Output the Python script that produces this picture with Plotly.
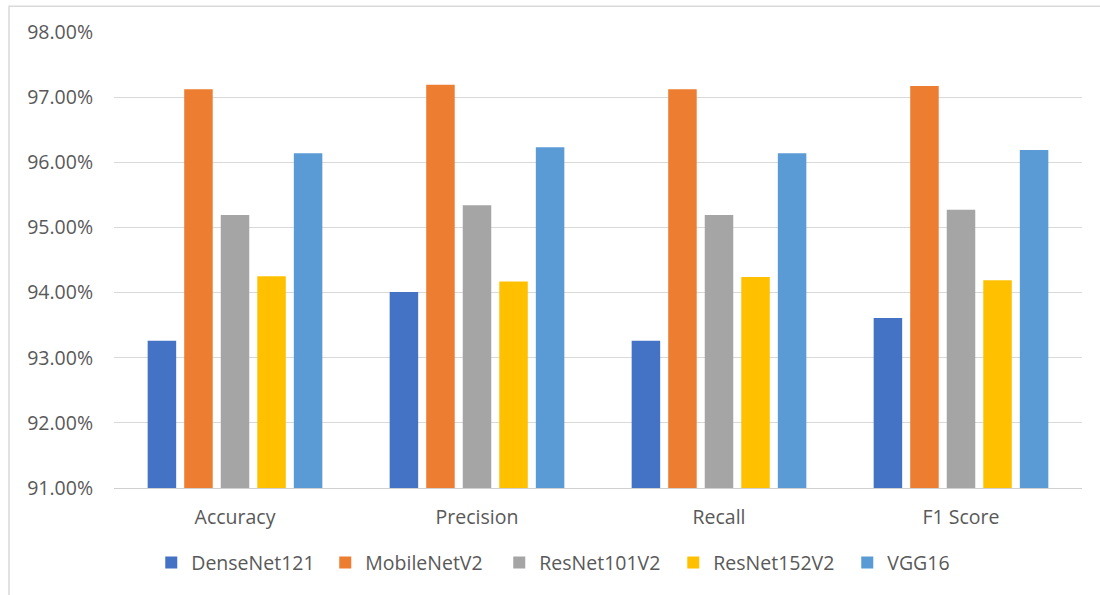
import plotly.graph_objects as go

metrics = ["Accuracy", "Precision", "Recall", "F1 Score"]
models = ["DenseNet121", "MobileNetV2", "ResNet101V2", "ResNet152V2", "VGG16"]
densenet121 = [0.9326, 0.9401, 0.9326, 0.9361]
mobilenetv2 = [0.9712, 0.9719, 0.9712, 0.9717]
resnet101v2 = [0.9519, 0.9534, 0.9519, 0.9527]
resnet152v2 = [0.9425, 0.9417, 0.9424, 0.9419]
vgg16 = [0.9614, 0.9623, 0.9614, 0.9619]
series = [densenet121, mobilenetv2, resnet101v2, resnet152v2, vgg16]
colors = ["#4472C4", "#ED7D31", "#A5A5A5", "#FFC000", "#5B9BD5"]
y_ticks = [0.91, 0.92, 0.93, 0.94, 0.95, 0.96, 0.97, 0.98]

FONT = "Open Sans"
FS = 19.5
fig = go.Figure()
for name, vals, col in zip(models, series, colors):
    fig.add_trace(go.Bar(x=metrics, y=vals, name=name, marker_color=col,
                         marker_line_width=0))

fig.update_layout(
    width=1100, height=595,
    margin=dict(l=114, r=18, t=32, b=107),
    paper_bgcolor="white", plot_bgcolor="white",
    barmode="group", bargap=0.245, bargroupgap=0.22,
    font=dict(family=FONT, size=FS, color="#595959"),
    showlegend=True,
    legend=dict(orientation="h", x=0.0385, xanchor="left", y=-0.164, yanchor="middle",
                font=dict(family=FONT, size=FS, color="#595959"),
                itemwidth=30, traceorder="normal",
                entrywidth=129, entrywidthmode="pixels"),
    xaxis=dict(showgrid=False, showline=True, linecolor="#d0d0d0", linewidth=1,
               ticks="", ticklabelstandoff=12, tickfont=dict(size=FS, color="#595959")),
    yaxis=dict(range=[0.91, 0.98], tickvals=y_ticks, tickformat=".2%",
               showgrid=True, gridcolor="#d9d9d9", gridwidth=1, zeroline=False,
               showline=False, ticks="", ticklabelstandoff=20,
               tickfont=dict(size=FS, color="#595959")),
    shapes=[dict(type="rect", xref="paper", yref="paper",
                 x0=(9 - 114) / 968, x1=(1110 - 114) / 968,
                 y0=(488.3 - 605) / 456.6, y1=(488.3 - 6) / 456.6,
                 line=dict(color="#d9d9d9", width=1.5), fillcolor="rgba(0,0,0,0)", layer="below")],
)

fig.write_html("out.html")
